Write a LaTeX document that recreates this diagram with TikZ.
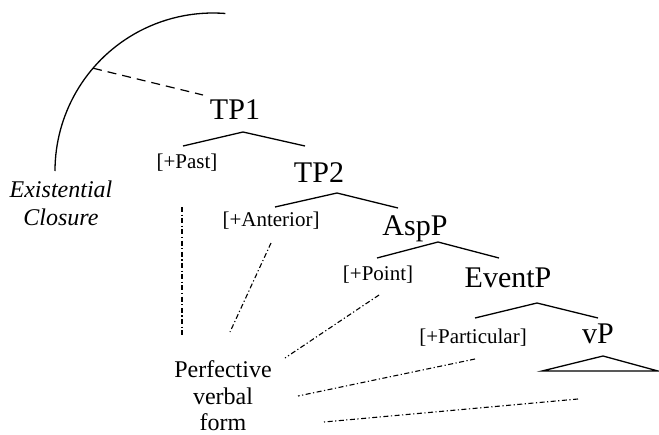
\documentclass[tikz,border=0pt]{standalone}
\usepackage{fontspec}
\setmainfont{Liberation Serif}
\begin{document}
\begin{tikzpicture}[x=1pt,y=-1pt,
  big/.style={font=\fontsize{30}{36}\selectfont, anchor=base, inner sep=0pt},
  feat/.style={font=\fontsize{21}{25}\selectfont, anchor=base, inner sep=0pt},
  side/.style={font=\fontsize{24}{28}\selectfont, anchor=base, inner sep=0pt},
  branch/.style={line width=1.3pt},
  closurelink/.style={line width=1.2pt, dash pattern=on 9pt off 6pt},
  link/.style={line width=1.1pt, dash pattern=on 5pt off 2.5pt on 1.2pt off 2.5pt},
]
\fill[white] (0,0) rectangle (659,434);
\useasboundingbox (0,0) rectangle (659,434);

% labels
\node[big] (tp1) at (235,119) {TP1};
\node[feat] (past) at (187,168) {[+Past]};
\node[big] (tp2) at (319,182) {TP2};
\node[feat] (ant) at (271,226) {[+Anterior]};
\node[big] (asp) at (415,235) {AspP};
\node[feat] (point) at (378,280) {[+Point]};
\node[big] (ev) at (508,287) {EventP};
\node[feat] (part) at (473,343) {[+Particular]};
\node[big] (vp) at (598,343) {vP};
\node[side] (pf1) at (223,377) {Perfective};
\node[side] (pf2) at (223,404) {verbal};
\node[side] (pf3) at (223,430) {form};
\node[side] (ex1) at (61,197) {\itshape Existential};
\node[side] (ex2) at (61,225) {\itshape Closure};

% branch coordinates
\coordinate (a1) at (243,132); \coordinate (l1) at (183,146); \coordinate (r1) at (305,146);
\coordinate (a2) at (337,193); \coordinate (l2) at (275,207); \coordinate (r2) at (398,208);
\coordinate (a3) at (438,242); \coordinate (l3) at (377,258); \coordinate (r3) at (499,258);
\coordinate (a4) at (537,303); \coordinate (l4) at (475,318); \coordinate (r4) at (598,318);
\coordinate (a5) at (603,356); \coordinate (l5) at (542,371); \coordinate (r5) at (658,371);

\draw[branch] (l1) -- (a1) -- (r1);
\draw[branch] (l2) -- (a2) -- (r2);
\draw[branch] (l3) -- (a3) -- (r3);
\draw[branch] (l4) -- (a4) -- (r4);
\draw[branch] (l5) -- (a5) -- (r5) -- cycle;

% existential closure arc
\coordinate (arcS) at (55,171);
\draw[branch] (arcS) arc[start angle=180, end angle=274.5, radius=158];
\coordinate (arcP) at (93,68.2);
\coordinate (tpEnd) at (203,95);
\draw[closurelink] (arcP) -- (tpEnd);

% dash-dot links to perfective verbal form
\coordinate (d1a) at (182,207); \coordinate (d1b) at (182,335);
\coordinate (d2a) at (271,243); \coordinate (d2b) at (230,332);
\coordinate (d3a) at (379,295); \coordinate (d3b) at (285,358);
\coordinate (d4a) at (475,359); \coordinate (d4b) at (298,396);
\coordinate (d5a) at (578,399); \coordinate (d5b) at (324,422);
\draw[link] (d1a) -- (d1b);
\draw[link] (d2a) -- (d2b);
\draw[link] (d3a) -- (d3b);
\draw[link] (d4a) -- (d4b);
\draw[link] (d5a) -- (d5b);
\end{tikzpicture}
\end{document}
